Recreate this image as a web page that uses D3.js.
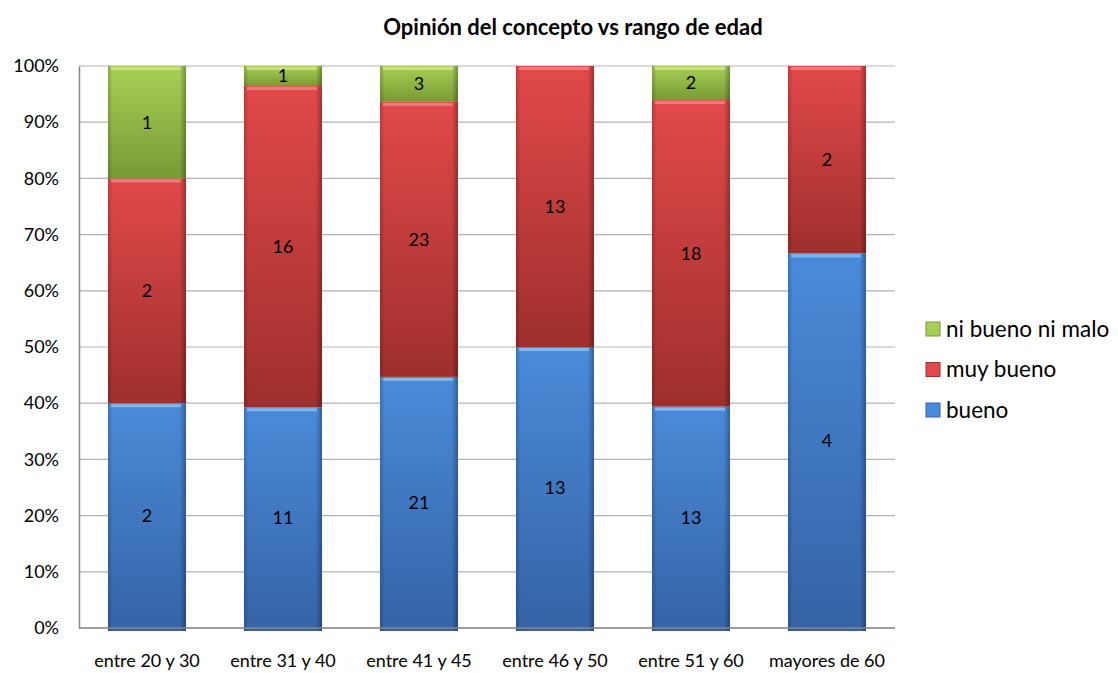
<!DOCTYPE html>
<html>
<head>
<meta charset="utf-8">
<script src="https://cdn.jsdelivr.net/npm/d3@7"></script>
<style>
  body { margin: 0; background: #fff; }
  text { font-family: Lato, "Open Sans", sans-serif; fill: #000; }
</style>
</head>
<body>
<svg width="1118" height="673"></svg>
<script>
const svg = d3.select('svg')

const categories = ['entre 20 y 30', 'entre 31 y 40', 'entre 41 y 45', 'entre 46 y 50', 'entre 51 y 60', 'mayores de 60']
const bueno = [2, 11, 21, 13, 13, 4]
const muyBueno = [2, 16, 23, 13, 18, 2]
const niBuenoNiMalo = [1, 1, 3, 0, 2, 0]
const seriesNames = ['bueno', 'muy bueno', 'ni bueno ni malo']
const yTicks = [0, 0.1, 0.2, 0.3, 0.4, 0.5, 0.6, 0.7, 0.8, 0.9, 1]

const colors = {
    'bueno': { hi: '#4a8bd9', lo: '#3563a6', light: '#8ec2f5' },
    'muy bueno': { hi: '#e2494a', lo: '#9e2f2d', light: '#f08a88' },
    'ni bueno ni malo': { hi: '#a8cf55', lo: '#789a34', light: '#cfe792' }
}

const plotLeft = 79, plotRight = 895, plotTop = 66, plotBottom = 628

const x = d3.scaleBand().domain(categories).range([plotLeft, plotRight]).paddingInner(0.426).paddingOuter(0.213)
const y = d3.scaleLinear().domain([0, 1]).range([plotBottom, plotTop])

const rows = categories.map((c, i) => ({
    cat: c,
    'bueno': bueno[i],
    'muy bueno': muyBueno[i],
    'ni bueno ni malo': niBuenoNiMalo[i]
}))
const stacked = d3.stack().keys(seriesNames).offset(d3.stackOffsetExpand)(rows)

// gradients
const defs = svg.append('defs')
seriesNames.forEach((s, i) => {
    const g = defs.append('linearGradient').attr('id', 'v' + i)
        .attr('x1', 0).attr('y1', 0).attr('x2', 0).attr('y2', 1)
    g.append('stop').attr('offset', '0%').attr('stop-color', colors[s].hi)
    g.append('stop').attr('offset', '100%').attr('stop-color', colors[s].lo)
})
const hg = defs.append('linearGradient').attr('id', 'edge')
    .attr('x1', 0).attr('y1', 0).attr('x2', 1).attr('y2', 0)
hg.append('stop').attr('offset', '0%').attr('stop-color', '#000').attr('stop-opacity', 0.18)
hg.append('stop').attr('offset', '6%').attr('stop-color', '#000').attr('stop-opacity', 0.0)
hg.append('stop').attr('offset', '92%').attr('stop-color', '#000').attr('stop-opacity', 0.0)
hg.append('stop').attr('offset', '100%').attr('stop-color', '#000').attr('stop-opacity', 0.3)

// gridlines
svg.append('g')
    .selectAll('line')
    .data(yTicks)
    .join('line')
    .attr('x1', plotLeft).attr('x2', plotRight)
    .attr('y1', d => y(d)).attr('y2', d => y(d))
    .attr('stroke', '#b3b3b3').attr('stroke-width', 1.2)

// bars
const layers = svg.append('g').selectAll('g')
    .data(stacked)
    .join('g')

layers.each(function (layer, li) {
    const segs = d3.select(this).selectAll('g')
        .data(layer.filter(d => d[1] - d[0] > 0))
        .join('g')
    const yBot = d => d[0] === 0 ? y(d[0]) + 3 : y(d[0])
    segs.append('rect')
        .attr('x', d => x(d.data.cat))
        .attr('y', d => y(d[1]))
        .attr('width', x.bandwidth())
        .attr('height', d => yBot(d) - y(d[1]))
        .attr('fill', `url(#v${li})`)
    segs.append('rect')
        .attr('x', d => x(d.data.cat))
        .attr('y', d => y(d[1]))
        .attr('width', x.bandwidth())
        .attr('height', d => yBot(d) - y(d[1]))
        .attr('fill', 'url(#edge)')
    // top bevel highlight
    segs.append('rect')
        .attr('x', d => x(d.data.cat) + 3)
        .attr('y', d => y(d[1]) + 1)
        .attr('width', x.bandwidth() - 8)
        .attr('height', 3)
        .attr('fill', colors[layer.key].light)
        .attr('opacity', 0.8)
    segs.append('text')
        .attr('x', d => x(d.data.cat) + x.bandwidth() / 2)
        .attr('y', d => (y(d[0]) + y(d[1])) / 2)
        .attr('dy', '0.35em')
        .attr('text-anchor', 'middle')
        .attr('font-size', 18)
        .text(d => d.data[layer.key])
})

// axes
const yAxis = svg.append('g')
    .attr('transform', `translate(${plotLeft},0)`)
    .call(d3.axisLeft(y).tickValues(yTicks).tickFormat(d3.format('.0%')).tickSize(0).tickPadding(20))
yAxis.select('.domain').attr('stroke', '#888').attr('stroke-width', 1.5)
yAxis.selectAll('text').attr('font-size', 18).attr('font-family', 'Lato, sans-serif')

const xAxis = svg.append('g')
    .attr('transform', `translate(0,${plotBottom})`)
    .call(d3.axisBottom(x).tickSize(0).tickPadding(26))
xAxis.select('.domain').attr('stroke', '#888').attr('stroke-width', 1.5)
    .attr('d', `M${plotLeft},0H${plotRight}`)
xAxis.selectAll('text').attr('font-size', 18).attr('font-family', 'Lato, sans-serif')

// title
svg.append('text')
    .attr('x', 573).attr('y', 35)
    .attr('text-anchor', 'middle')
    .attr('font-size', 22).attr('font-weight', 'bold')
    .text('Opinión del concepto vs rango de edad')

// legend
const legendItems = seriesNames.slice().reverse()
const legend = svg.append('g').selectAll('g')
    .data(legendItems)
    .join('g')
    .attr('transform', (d, i) => `translate(926,${329 + i * 40.5})`)
legend.append('rect')
    .attr('x', 0).attr('y', -7).attr('width', 14).attr('height', 14)
    .attr('fill', d => colors[d].hi)
    .attr('stroke', d => colors[d].lo).attr('stroke-width', 1)
legend.append('text')
    .attr('x', 20).attr('dy', '0.35em')
    .attr('font-size', 22.5)
    .text(d => d)
</script>
</body>
</html>
